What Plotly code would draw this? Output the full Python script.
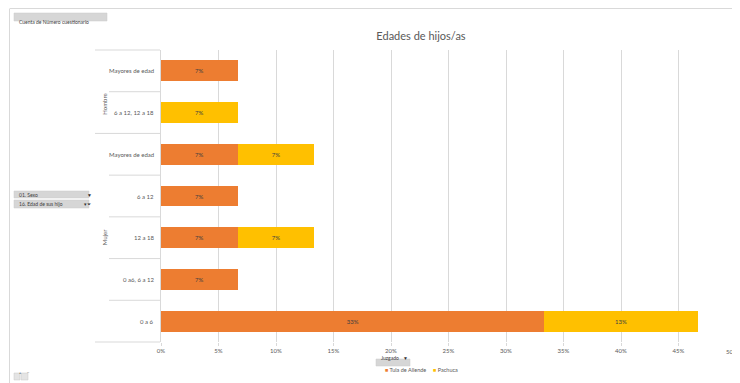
import plotly.graph_objects as go

# ---- data ----
groups = ["Hombre", "Hombre", "Mujer", "Mujer", "Mujer", "Mujer", "Mujer"]
ages = ["Mayores de edad", "6 a 12, 12 a 18", "Mayores de edad", "6 a 12",
        "12 a 18", "0 a6, 6 a 12", "0 a 6"]
series_names = ["Tula de Allende", "Pachuca"]
tula = [0.0667, None, 0.0667, 0.0667, 0.0667, 0.0667, 0.3333]
pachuca = [None, 0.0667, 0.0667, None, 0.0667, None, 0.1333]
x_ticks = [0, 0.05, 0.10, 0.15, 0.20, 0.25, 0.30, 0.35, 0.40, 0.45, 0.50]
colors = ["#ED7D31", "#FFC000"]
title_text = "Edades de hijos/as"

# page body has an 8px margin; figure placed at (8, 8) in the window
OFF = 8
VW, VH = 740, 383
W, H = VW - OFF, VH - OFF
# window-pixel geometry of the plot area
PX0, PX1, PY0, PY1 = 161, 736, 50, 342
L, R, T, B = PX0 - OFF, W - (PX1 - OFF), PY0 - OFF, H - (PY1 - OFF)
PW, PH = PX1 - PX0, PY1 - PY0

def px(p):
    return (p - PX0) / PW

def py(p):
    return (PY1 - p) / PH

keys = [f"{g}|{a}" for g, a in zip(groups, ages)]
n = len(keys)

fig = go.Figure()
for name, vals, col in zip(series_names, [tula, pachuca], colors):
    fig.add_trace(go.Bar(
        y=keys, x=vals, name=name, orientation="h",
        marker=dict(color=col, line=dict(width=0)),
        texttemplate="%{x:.0%}", textposition="inside",
        insidetextanchor="middle", textangle=0,
        textfont=dict(size=6, color="#404040", family="Lato"),
        showlegend=False,
    ))

font_c = "#595959"
line_c = "#D9D9D9"
shapes = []
annotations = []

# category labels
for k, a in zip(keys, ages):
    annotations.append(dict(xref="paper", yref="y", x=px(156), y=k, text=a,
                            showarrow=False, xanchor="right",
                            font=dict(size=6, color=font_c)))

# group labels and table lines
grp_order = []
for g in groups:
    if g not in grp_order:
        grp_order.append(g)
for g in grp_order:
    idx = [i for i, gg in enumerate(groups) if gg == g]
    annotations.append(dict(xref="paper", yref="paper", x=px(99),
                            y=1 - (min(idx) + max(idx) + 1) / 2 / n,
                            text=g, textangle=-90, showarrow=False,
                            font=dict(size=6, color=font_c)))
for i in range(n + 1):
    yb = 1 - i / n
    is_group_edge = (i == 0 or i == n or groups[i] != groups[i - 1])
    x0 = px(95) if is_group_edge else px(109)
    shapes.append(dict(type="line", xref="paper", yref="paper",
                       x0=x0, x1=px(160), y0=yb, y1=yb,
                       line=dict(color=line_c, width=1)))

# last tick label (kept inside the right edge)
annotations.append(dict(xref="x", yref="paper", x=x_ticks[-1], y=py(346),
                        text=f"{x_ticks[-1]:.0%}", showarrow=False,
                        xanchor="right", xshift=4, yanchor="top",
                        font=dict(size=6, color=font_c)))

# outer chart frame (cut at right/bottom)
shapes.append(dict(type="line", xref="paper", yref="paper",
                   x0=px(10), x1=px(745), y0=py(8.5), y1=py(8.5),
                   line=dict(color="#D9D9D9", width=1)))
shapes.append(dict(type="line", xref="paper", yref="paper",
                   x0=px(9.5), x1=px(9.5), y0=py(8.5), y1=py(390),
                   line=dict(color="#D9D9D9", width=1)))

# pivot field buttons
def button(x0, x1, y0, y1, text, icon=None, ix=None, fill="#D6D6D6", isize=5):
    shapes.append(dict(type="rect", xref="paper", yref="paper",
                       x0=px(x0), x1=px(x1), y0=py(y1), y1=py(y0),
                       fillcolor=fill, line=dict(color="#C8C8C8", width=0.5)))
    if text:
        annotations.append(dict(xref="paper", yref="paper", x=px(x0 + 3),
                                y=py((y0 + y1) / 2), text=text, showarrow=False,
                                xanchor="left", font=dict(size=5, color="#404040")))
    if icon:
        annotations.append(dict(xref="paper", yref="paper", x=px(ix),
                                y=py((y0 + y1) / 2), text=icon, showarrow=False,
                                font=dict(size=isize, color="#303030")))

button(14, 107, 13, 21, "Cuenta de Número cuestionario")
button(14, 89, 191, 198, "01. Sexo", "▼", 85)
button(14, 89, 200, 208, "16. Edad de sus hijo", "▾⏷", 82)
button(376, 410, 359, 366, "Juzgado", "▼", 405)
button(14, 20, 373, 380, "", "+", 17, fill="#E4E4E4", isize=4)
button(21, 28, 373, 380, "", "−", 24.5, fill="#E4E4E4", isize=4)

# legend (drawn as text)
lx = [383, 431]
for name, col, x0 in zip(series_names, colors, lx):
    annotations.append(dict(xref="paper", yref="paper", x=px(x0), y=py(375),
                            text=f"<span style='color:{col}'>■</span> {name}",
                            showarrow=False, xanchor="left",
                            font=dict(size=5.5, color=font_c)))

fig.update_layout(
    width=W, height=H,
    margin=dict(l=L, r=R, t=T, b=B),
    paper_bgcolor="white", plot_bgcolor="white",
    barmode="stack", bargap=0.5,
    font=dict(family="Lato", color=font_c),
    title=dict(text=title_text, xref="paper", x=px(421), xanchor="center",
               yref="container", y=1 - (36 - OFF) / H, yanchor="middle",
               font=dict(size=11, color=font_c, family="Lato")),
    xaxis=dict(range=[0, 0.5], tickvals=x_ticks, tickformat=".0%",
               showgrid=True, gridcolor=line_c, gridwidth=1,
               zeroline=False, showline=False,
               ticks="outside", ticklen=3, tickcolor=line_c,
               tickfont=dict(size=6, color=font_c)),
    yaxis=dict(categoryorder="array", categoryarray=keys,
               range=[n - 0.5, -0.5], showticklabels=False,
               showgrid=False, zeroline=False,
               showline=True, linecolor=line_c, linewidth=1, ticks=""),
    shapes=shapes, annotations=annotations,
    showlegend=False,
)

fig.write_html("out.html")
